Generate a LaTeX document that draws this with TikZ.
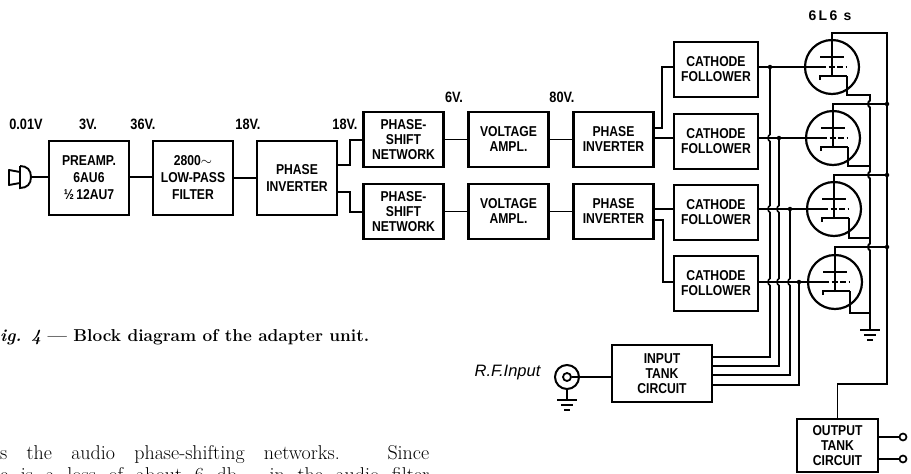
\documentclass[tikz,border=0pt]{standalone}
\usepackage{fontspec}
\usetikzlibrary{positioning}
\newfontfamily\lblfont[FakeStretch=0.85]{Liberation Sans}
\newfontfamily\rffont{Liberation Sans}
\tikzset{
  ground/.pic = {
    \draw[line width=1.8pt] (-10,0) -- (10,0);
    \draw[line width=1.8pt] (-6,5) -- (6,5);
    \draw[line width=1.8pt] (-3,10) -- (3,10);
  }
}
\begin{document}
\begin{tikzpicture}[
  x=1pt, y=-1pt,
  box/.style = {
    rectangle, draw, line width=2.4pt, outer sep=0pt, inner sep=0pt,
    font=\lblfont\bfseries\fontsize{14.3}{15}\selectfont, align=center,
    minimum width=80pt, minimum height=55pt
  },
  tall/.style   = {minimum height=74pt, font=\lblfont\bfseries\fontsize{14.3}{17}\selectfont},
  follow/.style = {minimum width=84pt},
  volts/.style  = {font=\lblfont\bfseries\fontsize{15}{16}\selectfont, inner sep=0pt},
  tubeenv/.style = {circle, draw, line width=2.2pt, minimum size=54pt, inner sep=0pt, outer sep=0pt},
  wire/.style   = {line width=1.9pt},
  thin wire/.style = {line width=1.6pt},
  dot/.style    = {circle, fill, inner sep=0pt, minimum size=4.5pt},
  term/.style   = {circle, draw, line width=1.7pt, inner sep=0pt, minimum size=7pt},
  hop/.style    = {bend right=70},
  node distance = 25pt
]
  \useasboundingbox (0,0) rectangle (911,474);

  % audio chain
  \node[box, tall] (preamp) at (89,178) {PREAMP.\\6AU6\\½\,12AU7};
  \node[box, tall, right=24pt of preamp] (filter) {2800$\sim$\\LOW-PASS\\FILTER};
  \node[box, tall, right=24pt of filter] (invMain) {PHASE\\INVERTER};
  \node[box] (psA) at (403.5,139.5) {PHASE-\\SHIFT\\NETWORK};
  \node[box, right=of psA] (voltA) {VOLTAGE\\AMPL.};
  \node[box, right=of voltA] (invA) {PHASE\\INVERTER};
  \node[box, below=17pt of psA] (psB) {PHASE-\\SHIFT\\NETWORK};
  \node[box, right=of psB] (voltB) {VOLTAGE\\AMPL.};
  \node[box, right=of voltB] (invB) {PHASE\\INVERTER};
  \node[box, follow] (cfA) at (716,69.5) {CATHODE\\FOLLOWER};
  \node[box, follow, below=17pt of cfA] (cfB) {CATHODE\\FOLLOWER};
  \node[box, follow, below=16pt of cfB] (cfC) {CATHODE\\FOLLOWER};
  \node[box, follow, below=16pt of cfC] (cfD) {CATHODE\\FOLLOWER};
  \node[box, minimum width=100pt, minimum height=57pt] (inTank) at (662,373.5) {INPUT\\TANK\\CIRCUIT};
  \node[box, minimum width=81pt, minimum height=53pt] (outTank) at (837.5,445.5) {OUTPUT\\TANK\\CIRCUIT};

  % tubes
  \node[tubeenv] (tubeA) at (832,67) {};
  \node[tubeenv] (tubeB) at (833,138) {};
  \node[tubeenv] (tubeC) at (834,209) {};
  \node[tubeenv] (tubeD) at (835,282) {};
  \foreach \t in {tubeA,tubeB,tubeC,tubeD} {
    \draw[wire] ([shift={(-12,-10)}]\t.center) -- ++(24,0);
    \draw[wire, dash pattern=on 6pt off 2.5pt] ([shift={(-12,0)}]\t.center) -- ++(27,0);
    \draw[wire] ([shift={(-12,13)}]\t.center) -- ++(0,-4) -- ++(27,0);
  }

  % volt labels
  \node[volts] (vMic)  at (26,124)  {0.01V};
  \node[volts] (vPre)  at (88,124)  {3V.};
  \node[volts] (vOut)  at (143,124) {36V.};
  \node[volts] (vFil)  at (248,124) {18V.};
  \node[volts] (vInv)  at (345,124) {18V.};
  \node[volts] (vPs)   at (454,97)  {6V.};
  \node[volts] (vAmp)  at (562,97)  {80V.};
  \node[volts, font=\rffont\bfseries\fontsize{14}{16}\selectfont] (vTube) at (830,16)  {6\,L\,6\;\,s};
  \node[font=\rffont\itshape\fontsize{16.5}{18}\selectfont, inner sep=0pt] (rfLabel) at (507.5,373) {R.F.Input};

  % microphone
  \coordinate (mic) at (31,177);
  \draw[wire, line join=round] (20,172) -- (9,170) -- (9,185) -- (20,183);
  \draw[wire] (20,166) -- (20,188) .. controls (27,188) and (31,184) .. (mic)
    .. controls (31,170) and (27,166) .. (20,166);
  \draw[wire] (mic) -- (preamp.west |- mic);

  % audio wires
  \draw[wire] (preamp.east |- 0,177) -- (filter.west |- 0,177);
  \draw[wire] (filter) -- (invMain);
  \draw[wire] (invMain.east |- 0,165) -| (350,140) -- (psA.west |- 0,140);
  \draw[wire] (invMain.east |- 0,192) -| (350,212) -- (psB.west |- 0,212);
  \draw[wire] (psA) -- (voltA);
  \draw[wire] (voltA) -- (invA);
  \draw[wire] (psB) -- (voltB);
  \draw[wire] (voltB) -- (invB);
  \draw[wire] (invA.east |- 0,128) -| (662,67) -- (cfA.west |- 0,67);
  \draw[wire] (invA.east |- 0,138) -- (cfB.west |- 0,138);
  \draw[wire] (invB.east |- 0,209) -- (cfC.west |- 0,209);
  \draw[wire] (invB.east |- 0,220) -| (663,282) -- (cfD.west |- 0,282);

  % grid wires
  \draw[wire] (cfA.east |- tubeA) -- ([xshift=-12pt]tubeA.center);
  \draw[wire] (cfB.east |- tubeB) -- ([xshift=-12pt]tubeB.center);
  \draw[wire] (cfC.east |- tubeC) -- ([xshift=-12pt]tubeC.center);
  \draw[wire] (cfD.east |- tubeD) -- ([xshift=-12pt]tubeD.center);

  % tank feeds
  \draw[thin wire] (770,67) -- (770,134.5) to[hop] (770,141.5) -- (770,205.5) to[hop] (770,212.5)
    -- (770,278.5) to[hop] (770,285.5) -- (770,357) -- (inTank.east |- 0,357);
  \draw[thin wire] (779,138) -- (779,205.5) to[hop] (779,212.5) -- (779,278.5) to[hop] (779,285.5)
    -- (779,366) -- (inTank.east |- 0,366);
  \draw[thin wire] (790,209) -- (790,278.5) to[hop] (790,285.5) -- (790,375) -- (inTank.east |- 0,375);
  \draw[thin wire] (799,282) -- (799,385) -- (inTank.east |- 0,385);
  \node[dot] (jA) at (770,67) {};
  \node[dot] (jB) at (779,138) {};
  \node[dot] (jC) at (790,209) {};
  \node[dot] (jD) at (799,282) {};

  % plates
  \coordinate (railTop) at (887,33);
  \coordinate (railBot) at (887,384);
  \draw[wire] ([yshift=-10pt]tubeA.center) -- (tubeA.center |- railTop) -- (railTop) -- (railBot)
    -- (837.5,384) -- (outTank.north);
  \draw[wire] ([yshift=-10pt]tubeB.center) -- (833,104) -- (887,104);
  \draw[wire] ([yshift=-10pt]tubeC.center) -- (834,175) -- (887,175);
  \draw[wire] ([yshift=-10pt]tubeD.center) -- (835,247) -- (887,247);
  \node[dot] (pB) at (887,104) {};
  \node[dot] (pC) at (887,175) {};
  \node[dot] (pD) at (887,247) {};

  % cathodes
  \draw[wire] (847,76) -- (847,95) -- (870,95) -- (870,100.5) to[hop] (870,107.5) -- (870,171.5)
    to[hop] (870,178.5) -- (870,243.5) to[hop] (870,250.5) -- (870,330);
  \draw[wire] (848,147) -- (848,166) -- (870,166);
  \draw[wire] (849,218) -- (849,238) -- (870,238);
  \draw[wire] (850,291) -- (850,313) -- (870,313);
  \pic at (870,330) {ground};

  % r.f. input
  \node[circle, draw, line width=2pt, minimum size=24pt, inner sep=0pt, outer sep=0pt] (rfOuter) at (567,377) {};
  \node[circle, draw, line width=1.8pt, minimum size=8pt, inner sep=0pt] (rfInner) at (567,377) {};
  \draw[wire] (rfInner) -- (inTank.west |- rfInner);
  \coordinate (rfGnd) at (567,400);
  \draw[wire] (rfOuter) -- (rfGnd);
  \pic at (rfGnd) {ground};

  % output terminals
  \node[term] (outA) at (903,437) {};
  \node[term] (outB) at (903,459) {};
  \draw[wire] (outTank.east |- outA) -- (outA);
  \draw[wire] (outTank.east |- outB) -- (outB);

  % caption and page text
  \node[anchor=base west, inner sep=0pt, font=\bfseries\fontsize{17.2}{18}\selectfont] (caption) at (0,341)
    {\textit{ig. 4} --- Block diagram of the adapter unit.};
  \node[anchor=base west, inner sep=0pt, font=\fontsize{20}{22}\selectfont] (bodyA) at (0,459)
    {\makebox[429pt][s]{s the audio phase-shifting networks. Since}};
  \node[anchor=base west, inner sep=0pt, font=\fontsize{20}{22}\selectfont] (bodyB) at (0,481)
    {\makebox[429pt][s]{e is a loss of about 6 db. in the audio filter}};
\end{tikzpicture}
\end{document}
